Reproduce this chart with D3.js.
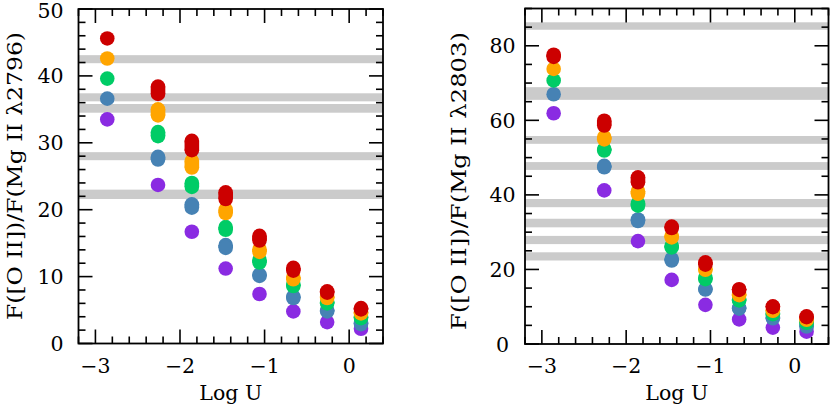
<!DOCTYPE html>
<html>
<head>
<meta charset="utf-8">
<script src="https://cdn.jsdelivr.net/npm/d3@7"></script>
<style>
  html, body { margin: 0; padding: 0; background: #fff; }
  svg { display: block; }
  text { font-family: "DejaVu Serif", "Liberation Serif", serif; fill: #000; }
</style>
</head>
<body>
<svg id="chart" width="831" height="407"></svg>
<script>
// ---------------- DATA ----------------
const logU = [-2.86, -2.26, -1.86, -1.46, -1.06, -0.66, -0.26, 0.14];
const seriesNames = ["purple", "blue", "green", "orange", "red"];
const seriesColors = ["#8a2be2", "#4682b4", "#00cc66", "#ffa500", "#cc0000"];
const xTickLabels = ["\u22123", "\u22122", "\u22121", "0"];

// Left panel: F([O II])/F(Mg II λ2796); each entry lists the model values at that log U
const left_purple = [[33.5], [23.7], [16.7], [11.2], [7.4], [4.8], [3.2], [2.2]];
const left_blue   = [[36.6], [27.9, 27.5], [20.8, 20.3], [14.7, 14.3], [10.3, 10.1], [7.0, 6.8], [5.0, 4.8], [3.1, 2.9]];
const left_green  = [[39.6], [31.6, 31.0], [24.0, 23.4], [17.4, 17.0], [12.5, 12.1], [8.8, 8.6], [6.2, 6.0], [4.0, 3.8]];
const left_orange = [[42.6], [35.0, 34.1], [27.3, 26.3], [20.0, 19.5], [14.1, 13.7], [9.9, 9.6], [7.0, 6.8], [4.7, 4.5]];
const left_red    = [[45.6], [38.4, 37.3], [30.3, 28.9], [22.6, 21.6], [16.1, 15.4], [11.3, 10.9], [7.8, 7.6], [5.3, 5.1]];
const left_bands  = [[41.9, 43.1], [36.2, 37.4], [34.5, 35.8], [27.4, 28.6], [21.6, 23.0]];
const left_yTicks = [0, 10, 20, 30, 40, 50];

// Right panel: F([O II])/F(Mg II λ2803)
const right_purple = [[61.9], [41.2], [27.6], [17.2], [10.5], [6.6], [4.4], [3.3]];
const right_blue   = [[67.0], [47.8, 47.4], [33.4, 33.0], [22.8, 22.4], [14.8, 14.6], [9.7, 9.5], [7.1, 6.9], [4.9, 4.7]];
const right_green  = [[70.7], [52.3, 51.9], [37.7, 37.1], [26.3, 25.9], [17.8, 17.4], [11.9, 11.7], [8.2, 8.0], [5.9, 5.7]];
const right_orange = [[73.8], [55.5, 54.9], [41.0, 40.3], [29.0, 28.6], [20.1, 19.9], [13.3, 13.1], [9.1, 8.9], [6.7, 6.5]];
const right_red    = [[77.6, 77.0], [59.9, 58.6], [44.7, 43.4], [31.5, 31.1], [21.9, 21.3], [14.7, 14.5], [10.1, 9.9], [7.4, 7.2]];
const right_bands  = [[84.3, 86.3], [65.5, 68.9], [53.7, 55.8], [46.7, 48.8], [36.7, 38.9], [31.3, 33.6], [26.8, 29.0], [22.4, 24.6]];
const right_yTicks = [0, 20, 40, 60, 80];

// ---------------- DRAWING ----------------
const svg = d3.select("#chart");

const panels = [
  {
    x0: 78.5, x1: 383, y0: 9, y1: 343.5,
    yDomain: [0, 50], yMinor: 2, yMajor: 10, yTicks: left_yTicks,
    series: [left_purple, left_blue, left_green, left_orange, left_red],
    bands: left_bands,
    yLabX: 63.5, yLabAnchor: "end",
    label: "F([O II])/F(Mg II \u03bb2796)", labelX: 22, labelY: 176, labelLen: 288
  },
  {
    x0: 525, x1: 828.5, y0: 8.5, y1: 344,
    yDomain: [0, 90], yMinor: 5, yMajor: 20, yTicks: right_yTicks,
    series: [right_purple, right_blue, right_green, right_orange, right_red],
    bands: right_bands,
    yLabX: 502.5, yLabAnchor: "middle",
    label: "F([O II])/F(Mg II \u03bb2803)", labelX: 466, labelY: 181, labelLen: 298
  }
];

const majorLen = 14, minorLen = 7, R = 7.3, FS = 20.5;

panels.forEach(p => {
  const x = d3.scaleLinear().domain([-3.2, 0.4]).range([p.x0, p.x1]);
  const y = d3.scaleLinear().domain(p.yDomain).range([p.y1, p.y0]);
  const g = svg.append("g");

  // gray bands
  g.selectAll("rect.band").data(p.bands).join("rect")
    .attr("class", "band")
    .attr("x", p.x0).attr("width", p.x1 - p.x0)
    .attr("y", d => y(d[1])).attr("height", d => y(d[0]) - y(d[1]))
    .attr("fill", "#cbcbcb");

  // points
  p.series.forEach((s, si) => {
    const pts = [];
    s.forEach((vals, i) => vals.forEach(v => pts.push({ x: logU[i], v })));
    const pairs = s.map((vals, i) => ({ x: logU[i], vals })).filter(d => d.vals.length > 1);
    g.selectAll(null).data(pairs).join("line")
      .attr("x1", d => x(d.x)).attr("x2", d => x(d.x))
      .attr("y1", d => y(d3.max(d.vals))).attr("y2", d => y(d3.min(d.vals)))
      .attr("stroke", seriesColors[si]).attr("stroke-width", 2 * R);
    g.selectAll(null).data(pts).join("circle")
      .attr("cx", d => x(d.x)).attr("cy", d => y(d.v)).attr("r", R)
      .attr("fill", seriesColors[si]);
  });

  // ticks (inward, all four sides)
  const xMajor = d3.range(-3, 0.0001, 1);
  const xMinor = d3.range(-3.2, 0.4001, 0.2).map(v => Math.round(v * 10) / 10);
  const yMinor = d3.range(p.yDomain[0], p.yDomain[1] + 0.001, p.yMinor);
  const tickG = g.append("g").attr("stroke", "#000").attr("stroke-width", 1.6);
  const isMajorX = v => Math.abs(v - Math.round(v)) < 1e-6;
  xMinor.forEach(v => {
    const L = isMajorX(v) ? majorLen : minorLen;
    tickG.append("line").attr("x1", x(v)).attr("x2", x(v)).attr("y1", p.y1).attr("y2", p.y1 - L);
    tickG.append("line").attr("x1", x(v)).attr("x2", x(v)).attr("y1", p.y0).attr("y2", p.y0 + L);
  });
  yMinor.forEach(v => {
    const L = (v % p.yMajor === 0) ? majorLen : minorLen;
    tickG.append("line").attr("x1", p.x0).attr("x2", p.x0 + L).attr("y1", y(v)).attr("y2", y(v));
    tickG.append("line").attr("x1", p.x1).attr("x2", p.x1 - L).attr("y1", y(v)).attr("y2", y(v));
  });

  // frame
  g.append("rect").attr("x", p.x0).attr("y", p.y0)
    .attr("width", p.x1 - p.x0).attr("height", p.y1 - p.y0)
    .attr("fill", "none").attr("stroke", "#000").attr("stroke-width", 1.8);

  // tick labels
  g.selectAll(null).data(xMajor).join("text")
    .attr("x", d => x(d)).attr("y", 373)
    .attr("text-anchor", "middle").attr("font-size", FS)
    .text((d, i) => xTickLabels[i]);
  g.selectAll(null).data(p.yTicks).join("text")
    .attr("x", p.yLabX).attr("y", d => Math.max(y(d) + 7.5, 18))
    .attr("text-anchor", p.yLabAnchor).attr("font-size", FS)
    .text(d => d);

  // axis titles
  g.append("text").attr("x", (x(-3.2) + x(0.4)) / 2).attr("y", 400)
    .attr("text-anchor", "middle").attr("font-size", FS).text("Log  U");
  g.append("text")
    .attr("transform", `translate(${p.labelX},${p.labelY}) rotate(-90)`)
    .attr("text-anchor", "middle").attr("font-size", 20)
    .attr("textLength", p.labelLen).attr("lengthAdjust", "spacingAndGlyphs")
    .text(p.label);
});
</script>
</body>
</html>
